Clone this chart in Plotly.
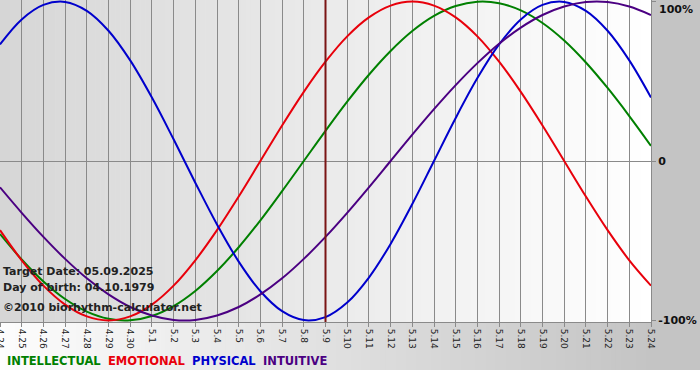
import plotly.graph_objects as go

# ---- data (-1..1 = -100%..100%) ----
dates = ["4.24", "4.25", "4.26", "4.27", "4.28", "4.29", "4.30",
         "5.1", "5.2", "5.3", "5.4", "5.5", "5.6", "5.7", "5.8", "5.9",
         "5.10", "5.11", "5.12", "5.13", "5.14", "5.15", "5.16", "5.17",
         "5.18", "5.19", "5.20", "5.21", "5.22", "5.23", "5.24"]

intellectual = [-0.458, -0.618, -0.756, -0.866, -0.945, -0.990, -0.999, -0.972,
                -0.910, -0.815, -0.690, -0.541, -0.372, -0.189, 0.000, 0.189,
                0.372, 0.541, 0.690, 0.815, 0.910, 0.972, 0.999, 0.990,
                0.945, 0.866, 0.756, 0.618, 0.458, 0.282, 0.095]

emotional = [-0.434, -0.623, -0.782, -0.901, -0.975, -1.000, -0.975, -0.901,
             -0.782, -0.623, -0.434, -0.223, 0.000, 0.223, 0.434, 0.623,
             0.782, 0.901, 0.975, 1.000, 0.975, 0.901, 0.782, 0.623,
             0.434, 0.223, 0.000, -0.223, -0.434, -0.623, -0.782]

physical = [0.731, 0.888, 0.979, 0.998, 0.942, 0.817, 0.631, 0.398,
            0.136, -0.136, -0.398, -0.631, -0.817, -0.942, -0.998, -0.979,
            -0.888, -0.731, -0.520, -0.270, 0.000, 0.270, 0.520, 0.731,
            0.888, 0.979, 0.998, 0.942, 0.817, 0.631, 0.398]

intuitive = [-0.165, -0.325, -0.476, -0.614, -0.736, -0.837, -0.916, -0.969,
             -0.997, -0.997, -0.969, -0.916, -0.837, -0.736, -0.614, -0.476,
             -0.325, -0.165, 0.000, 0.165, 0.325, 0.476, 0.614, 0.736,
             0.837, 0.916, 0.969, 0.997, 0.997, 0.969, 0.916]

target_date = "5.9"
y_tickvals = [-1, 0, 1]
y_ticktext = ["<b>-100%</b>", "<b>0</b>", ""]

series = [
    ("INTELLECTUAL", intellectual, "#008000"),
    ("EMOTIONAL", emotional, "#e8000b"),
    ("PHYSICAL", physical, "#0000cc"),
    ("INTUITIVE", intuitive, "#4b0082"),
]

# ---- layout geometry ----
W, H = 700, 380
ML, MR, MT, MB = 0, 49, 0, 58
PW, PH = W - ML - MR, H - MT - MB
band_bottom = -48 / PH  # paper y of bottom of grey frame

x_index = list(range(len(dates)))
target_index = dates.index(target_date)


def grey(v):
    v = int(round(v))
    return f"rgb({v},{v},{v})"


fig = go.Figure()
for name, vals, col in series:
    fig.add_trace(go.Scatter(x=x_index, y=vals, mode="lines", name=name,
                             line=dict(color=col, width=2, shape="spline",
                                       smoothing=1.0),
                             hoverinfo="skip"))

shapes = []
# plot area gradient: grey (left) -> white (right)
N = 130
for i in range(N):
    t = (i + 0.5) / N
    shapes.append(dict(type="rect", xref="paper", yref="paper",
                       x0=i / N, x1=(i + 1) / N + 0.001, y0=0, y1=1,
                       fillcolor=grey(214 + (255 - 214) * t),
                       line=dict(width=0), layer="below"))
# bottom band gradient: white (left) -> grey (right)
for i in range(N):
    t = (i + 0.5) / N
    shapes.append(dict(type="rect", xref="paper", yref="paper",
                       x0=i / N, x1=(i + 1) / N + 0.001, y0=band_bottom, y1=0,
                       fillcolor=grey(253 - (253 - 196) * t),
                       line=dict(width=0), layer="below"))
# right grey panel
shapes.append(dict(type="rect", xref="paper", yref="paper",
                   x0=1, x1=W / PW, y0=band_bottom, y1=1,
                   fillcolor=grey(196), line=dict(width=0), layer="below"))
# target date marker
shapes.append(dict(type="line", xref="x", yref="paper",
                   x0=target_index, x1=target_index, y0=0, y1=1,
                   line=dict(color="#7a1515", width=2), layer="above"))

txt_font = dict(family="DejaVu Sans", size=11, color="#222222")
annotations = [
    dict(text="<b>Target Date: 05.09.2025</b>", x=0, y=(PH - 271) / PH,
         xshift=1, xanchor="left", yanchor="middle", font=txt_font),
    dict(text="<b>Day of birth: 04.10.1979</b>", x=0, y=(PH - 287) / PH,
         xshift=1, xanchor="left", yanchor="middle", font=txt_font),
    dict(text="<b>©2010 biorhythm-calculator.net</b>", x=0, y=(PH - 307) / PH,
         xshift=1, xanchor="left", yanchor="middle", font=txt_font),
    dict(text="<b>100%</b>", x=1, y=1, xanchor="left", yanchor="top",
         xshift=6, yshift=-1,
         font=dict(family="DejaVu Sans", size=11, color="#111111")),
]
legend_html = "&nbsp;&nbsp;".join(
    f"<span style='color:{c}'><b>{n}</b></span>" for n, _, c in series)
annotations.append(dict(text=legend_html, x=0, y=(PH - 361) / PH,
                        xshift=5, xanchor="left", yanchor="middle",
                        font=dict(family="DejaVu Sans", size=11.5)))
for a in annotations:
    a.update(xref="paper", yref="paper", showarrow=False)

fig.update_layout(
    width=W, height=H,
    margin=dict(l=ML, r=MR, t=MT, b=MB, pad=0, autoexpand=False),
    paper_bgcolor="white",
    plot_bgcolor="rgba(0,0,0,0)",
    showlegend=False,
    hovermode=False,
    shapes=shapes,
    annotations=annotations,
    xaxis=dict(range=[0, len(dates) - 1], automargin=False,
               tickmode="array", tickvals=x_index, ticktext=dates,
               ticklabeloverflow="allow",
               showgrid=True, gridcolor="#8a8a8a", gridwidth=1,
               showline=True, linecolor="#8a8a8a", linewidth=1,
               ticks="outside", ticklen=4, tickcolor="#8a8a8a",
               tickangle=90,
               tickfont=dict(family="DejaVu Sans", size=9, color="#222222"),
               zeroline=False, fixedrange=True),
    yaxis=dict(range=[-1.01, 1.01], side="right", automargin=False,
               tickmode="array", tickvals=y_tickvals, ticktext=y_ticktext,
               ticklabeloverflow="allow",
               showgrid=False, zeroline=True, zerolinecolor="#8a8a8a",
               zerolinewidth=1,
               showline=True, linecolor="#8a8a8a", linewidth=1,
               ticks="outside", ticklen=4, tickcolor="#8a8a8a",
               tickfont=dict(family="DejaVu Sans", size=11, color="#111111"),
               fixedrange=True),
)

fig.write_html("out.html",
               config={"displayModeBar": False, "staticPlot": True},
               post_script="document.body.style.margin='0';"
                           "document.body.style.padding='0';")
